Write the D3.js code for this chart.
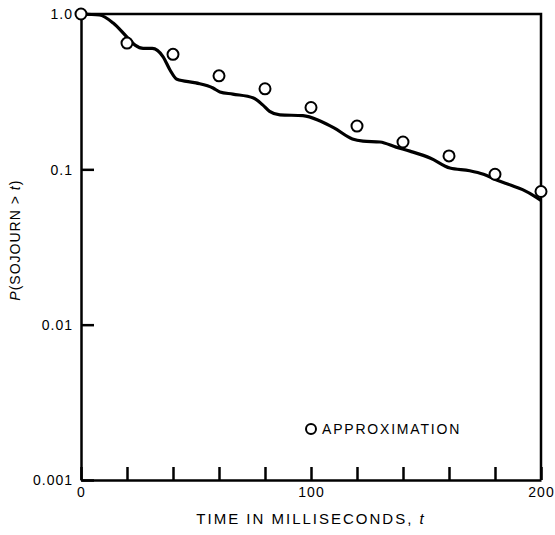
<!DOCTYPE html>
<html lang="en">
<head>
    <meta charset="UTF-8">
    <title>Sojourn</title>
    <script src="https://d3js.org/d3.v7.min.js"></script>
</head>
<style>
    body {
     margin: 0;
     background: #fff;
     font-family: "Liberation Sans", Arial, sans-serif;
    }
    .axis path,
    .axis line {
     fill: none;
     stroke: #000;
     stroke-width: 2.5;
    }
    .axis text {
     font-size: 14px;
     letter-spacing: 1px;
     fill: #000;
    }
</style>
<body>
<script type="text/javascript">
    // exact curve, P(sojourn > t)
    var curveT = [0, 8, 14, 20, 23.5, 27, 31, 35.7, 38.7, 41.7, 50, 57.4, 60.4, 66, 75, 79, 82, 86.5, 96.5, 104, 110, 118, 122.6, 130, 137, 143, 152, 160.4, 169, 175, 181, 187, 192, 198, 200];
    var curveP = [1.0, 0.985, 0.875, 0.71, 0.63, 0.60, 0.60, 0.53, 0.436, 0.38, 0.36, 0.334, 0.315, 0.305, 0.288, 0.26, 0.236, 0.224, 0.222, 0.205, 0.185, 0.157, 0.152, 0.15, 0.139, 0.131, 0.118, 0.102, 0.098, 0.093, 0.085, 0.079, 0.074, 0.066, 0.063];

    // approximation points
    var approxT = [0, 20, 40, 60, 80, 100, 120, 140, 160, 180, 200];
    var approxP = [1.0, 0.65, 0.55, 0.40, 0.33, 0.25, 0.19, 0.15, 0.122, 0.093, 0.072];

    var xTicks = [0, 20, 40, 60, 80, 100, 120, 140, 160, 180, 200];
    var xLabels = [0, 100, 200];
    var yTicks = [1, 0.1, 0.01, 0.001];
    var yLabels = ["1.0", "0.1", "0.01", "0.001"];

    var margin = {top: 14, right: 14, bottom: 55, left: 81},
        W = 555, H = 535,
        w = W - margin.left - margin.right,
        h = H - margin.top - margin.bottom;

    var x = d3.scaleLinear().domain([0, 200]).range([0, w]);
    var y = d3.scaleLog().domain([0.001, 1]).range([h, 0]);

    var svg = d3.select("body").append("svg")
        .attr("width", W)
        .attr("height", H)
        .append("g")
        .attr("transform", "translate(" + margin.left + "," + margin.top + ")");

    // frame top and right
    svg.append("path")
        .attr("d", "M0,0H" + w + "V" + h)
        .attr("fill", "none")
        .attr("stroke", "#000")
        .attr("stroke-width", 2.5);

    var xAxis = d3.axisBottom(x)
        .tickValues(xTicks)
        .tickSizeInner(-13)
        .tickSizeOuter(0)
        .tickPadding(7)
        .tickFormat(function(d) { return xLabels.indexOf(d) >= 0 ? d : ""; });

    var yAxis = d3.axisLeft(y)
        .tickValues(yTicks)
        .tickSizeInner(-13)
        .tickSizeOuter(0)
        .tickPadding(8)
        .tickFormat(function(d, i) { return yLabels[i]; });

    svg.append("g")
        .attr("class", "x axis")
        .attr("transform", "translate(0," + h + ")")
        .call(xAxis);

    svg.append("g")
        .attr("class", "y axis")
        .call(yAxis);

    svg.selectAll(".y.axis .tick text").attr("dy", "0.35em");

    // axis titles
    svg.append("text")
        .attr("x", w / 2)
        .attr("y", h + 44)
        .attr("text-anchor", "middle")
        .style("font-size", "15px")
        .style("letter-spacing", "2px")
        .html("TIME IN MILLISECONDS, <tspan font-style='italic'>t</tspan>");

    svg.append("text")
        .attr("transform", "translate(" + (-61) + "," + y(0.035) + ") rotate(-90)")
        .attr("text-anchor", "middle")
        .style("font-size", "14px")
        .style("letter-spacing", "1px")
        .html("<tspan font-style='italic'>P</tspan>(SOJOURN &gt; <tspan font-style='italic'>t</tspan>)");

    // exact curve
    var curveData = curveT.map(function(t, i) { return {t: t, p: curveP[i]}; });
    var line = d3.line()
        .x(function(d) { return x(d.t); })
        .y(function(d) { return y(d.p); })
        .curve(d3.curveMonotoneX);

    svg.append("path")
        .datum(curveData)
        .attr("d", line)
        .attr("fill", "none")
        .attr("stroke", "#000")
        .attr("stroke-width", 3.2);

    // approximation circles
    var approxData = approxT.map(function(t, i) { return {t: t, p: approxP[i]}; });
    svg.selectAll(".pt")
        .data(approxData)
        .enter().append("circle")
        .attr("class", "pt")
        .attr("cx", function(d) { return x(d.t); })
        .attr("cy", function(d) { return y(d.p); })
        .attr("r", 5.5)
        .attr("fill", "#fff")
        .attr("stroke", "#000")
        .attr("stroke-width", 2);

    // legend
    var legend = svg.append("g")
        .attr("transform", "translate(" + x(100) + "," + y(0.00213) + ")");
    legend.append("circle")
        .attr("r", 5)
        .attr("fill", "#fff")
        .attr("stroke", "#000")
        .attr("stroke-width", 2);
    legend.append("text")
        .attr("x", 11)
        .attr("dy", "0.35em")
        .style("font-size", "14px")
        .style("letter-spacing", "1.8px")
        .text("APPROXIMATION");
</script>
</body>
</html>
